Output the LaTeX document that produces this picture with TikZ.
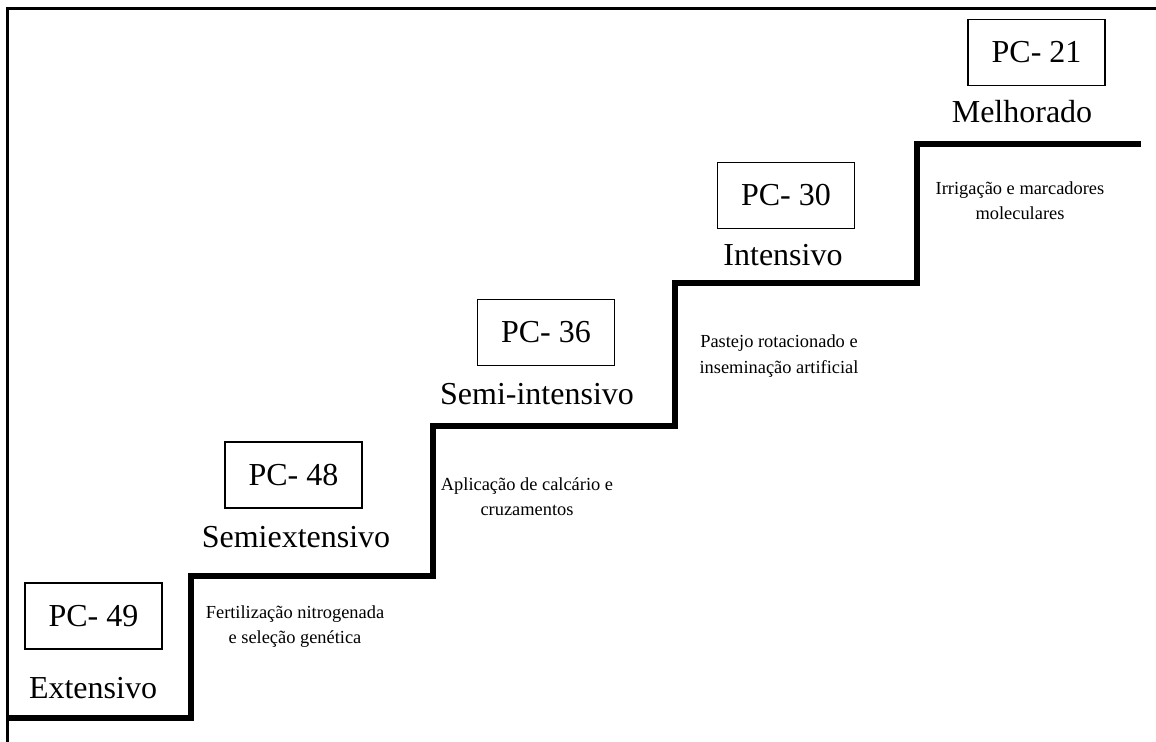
\documentclass[tikz,border=0pt]{standalone}
\usepackage{fontspec}
\setmainfont{Liberation Serif}
\usepackage{tikz}
\usetikzlibrary{positioning,calc}

\begin{document}
\begin{tikzpicture}[x=0.5pt,y=-0.5pt,
                pcbox/.style={draw,line width=0.8pt,minimum width=68.5pt,minimum height=33pt,
                              inner sep=0pt,font=\fontsize{16}{19}\selectfont},
                level/.style={anchor=base,inner sep=0pt,font=\fontsize{16}{19}\selectfont},
                practice/.style={align=center,inner sep=0pt,font=\fontsize{9.2}{12.6}\selectfont}
            ]
                \useasboundingbox (0,0) rectangle (1156,742);
                \draw[line width=1.5pt] (7,742) -- (7,9) -- (1156,9);
                \draw[line width=3pt] (7,718) -- (190.5,718) -- (190.5,576) -- (433,576) -- (433,426)
                    -- (675,426) -- (675,283) -- (917,283) -- (917,144) -- (1141,144);
                \node[pcbox] (pc49) at (93.5,616) {PC- 49};
                \node[pcbox] (pc48) at (293.5,475) {PC- 48};
                \node[pcbox] (pc36) at (546,332.5) {PC- 36};
                \node[pcbox] (pc30) at (786,195.5) {PC- 30};
                \node[pcbox] (pc21) at (1036.5,52.5) {PC- 21};
                \node[level] (extensivo) at (93,698) {Extensivo};
                \node[level] (semiext) at (296,547) {Semiextensivo};
                \node[level] (semiint) at (537,405) {Semi-intensivo};
                \node[level] (intensivo) at (783,266) {Intensivo};
                \node[level] (melhorado) at (1022,123) {Melhorado};
                \node[practice] (fert) at (295,627) {
                    Fertilização nitrogenada\\
                    e seleção genética
                };
                \node[practice] (calc) at (527,497) {
                    Aplicação de calcário e\\
                    cruzamentos
                };
                \node[practice] (past) at (779,356) {
                    Pastejo rotacionado e\\
                    inseminação artificial
                };
                \node[practice] (irrig) at (1020,201) {
                    Irrigação e marcadores\\
                    moleculares
                };
            \end{tikzpicture}
\end{document}
